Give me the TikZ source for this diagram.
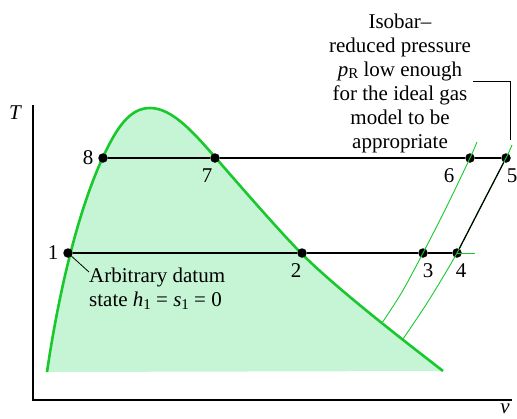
\documentclass[tikz,border=0pt]{standalone}
\usepackage{fontspec}
\setmainfont{Liberation Serif}
\newfontfamily\libserif{Liberation Serif}
\definecolor{dome}{RGB}{25,200,45}
\definecolor{liq}{RGB}{197,245,213}
\newcommand\mysub[1]{\raisebox{-0.3ex}{\fontsize{15}{15}\selectfont #1}}
\tikzset{
  dot/.style={circle,fill=black,inner sep=0pt,minimum size=9.5pt},
  lbl/.style={font=\libserif\fontsize{21}{24}\selectfont,inner sep=0pt},
  ital/.style={font=\libserif\itshape\fontsize{21}{24}\selectfont,inner sep=0pt},
  axis/.style={line width=1.1pt},
  iso/.style={line width=1.2pt},
  thin green/.style={dome,line width=0.9pt},
}
\begin{document}
\begin{tikzpicture}[x=1pt,y=-1pt]
\useasboundingbox (0,0) rectangle (517,418);
\def\domepath{(47,372) .. controls (58,297) and (77,213) .. (103,157)
  .. controls (117,127) and (130,108) .. (150,108)
  .. controls (172,108) and (193,132) .. (215,157)
  .. controls (235,180) and (280,232) .. (302,254)
  .. controls (337,289) and (403,340) .. (443,371)}
% dome fill and curve
\fill[liq] \domepath -- cycle;
\draw[dome,line width=2.6pt] \domepath;
% axes
\coordinate (o) at (33,400);
\coordinate (ytop) at (33,105);
\coordinate (xend) at (512,400);
\draw[axis] (ytop) -- (o) -- (xend);
\node[ital] (T) at (15,113) {T};
\node[ital] (v) at (505,409) {v};
% points
\node[dot] (p1) at (68,253) {};
\node[dot] (p2) at (302,253) {};
\node[dot] (p3) at (423,253) {};
\node[dot] (p4) at (457,253) {};
\node[dot] (p5) at (506,158) {};
\node[dot] (p6) at (470,158) {};
\node[dot] (p7) at (215,158) {};
\node[dot] (p8) at (103,158) {};
\coordinate (gend) at (475,253);
% green isobars (ideal gas region)
\draw[thin green] plot[smooth] coordinates {(477,142) (470,158) (446,208) (423,253) (402,292) (382,323)};
\draw[thin green] plot[smooth] coordinates {(512,145) (506,158) (481,206) (457,253) (429,300) (403,339)};
\draw[thin green] (p4.center) -- (gend);
% black isobars
\draw[iso] (p8) -- (p7) -- (p6) -- (p5);
\draw[iso] (p1) -- (p2) -- (p3) -- (p4);
\draw[iso] (p4) -- (p5);
% labels
\node[lbl] (l1) at (53,253) {1};
\node[lbl] (l2) at (296,271) {2};
\node[lbl] (l3) at (428,271) {3};
\node[lbl] (l4) at (461,271) {4};
\node[lbl] (l5) at (512,176) {5};
\node[lbl] (l6) at (449,176) {6};
\node[lbl] (l7) at (207,176) {7};
\node[lbl] (l8) at (88,158) {8};
% datum annotation
\node[lbl,align=left,anchor=north west] (datum) at (89,268) {Arbitrary datum\\state \textit{h}\mysub{1} = \textit{s}\mysub{1} = 0};
\coordinate (dl) at (89,272);
\draw[line width=0.8pt] (p1.center) -- (dl);
% isobar annotation
\node[lbl,align=center] (anno) at (400,83) {Isobar–\\reduced pressure\\\textit{p}\mysub{R} low enough\\for the ideal gas\\model to be\\appropriate};
\coordinate (la) at (473,81);
\coordinate (lb) at (510,140);
\draw[line width=0.8pt] (la) -| (lb);
\end{tikzpicture}
\end{document}
